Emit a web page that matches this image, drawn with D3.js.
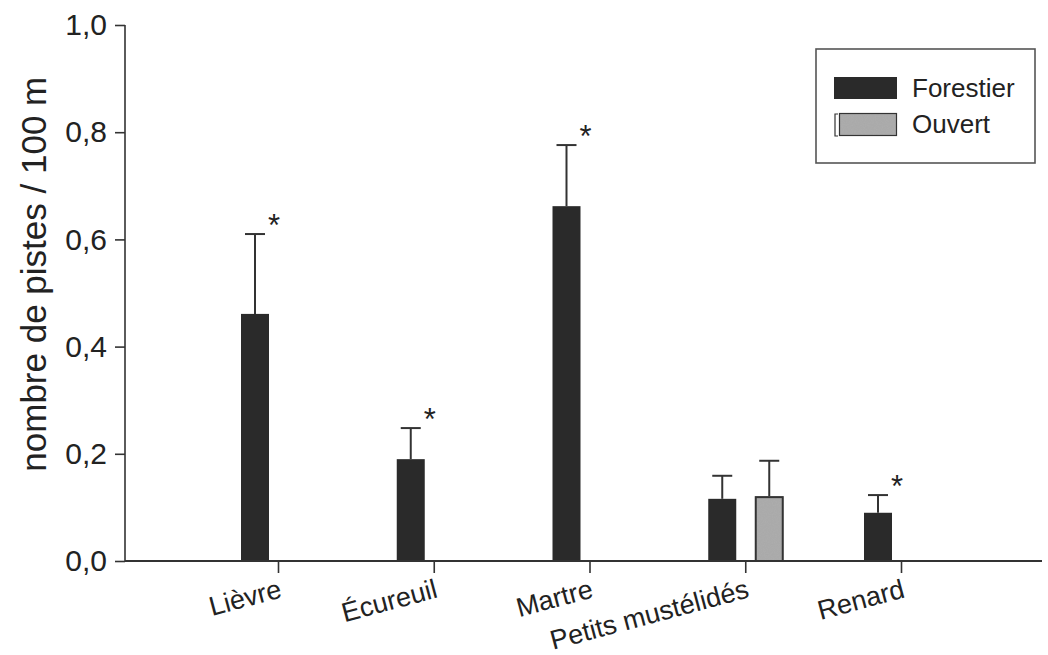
<!DOCTYPE html>
<html>
<head>
<meta charset="utf-8">
<script src="https://cdn.jsdelivr.net/npm/d3@7"></script>
<style>
  html, body { margin: 0; padding: 0; background: #fff; }
  svg { display: block; font-family: "Liberation Sans", Arial, Helvetica, sans-serif; }
</style>
</head>
<body>
<svg id="chart" width="1048" height="655"></svg>
<script>
// Species and mean track counts per 100 m, by habitat type
const species = ["Lièvre", "Écureuil", "Martre", "Petits mustélidés", "Renard"];
const forestier = [0.461, 0.190, 0.662, 0.116, 0.090];
const forestierSE = [0.149, 0.058, 0.114, 0.043, 0.033];
const ouvert = [0, 0, 0, 0.121, 0];
const ouvertSE = [0, 0, 0, 0.066, 0];
const significant = [true, true, true, false, true];
const yTicks = [0, 0.2, 0.4, 0.6, 0.8, 1.0];
const seriesNames = ["Forestier", "Ouvert"];

const svg = d3.select("#chart");
const axisColor = "#333";
const darkFill = "#2a2a2a";
const greyFill = "#a9a9a9";

// grainy texture for the open-habitat bars
const defs = svg.append("defs");
const grain = defs.append("filter").attr("id", "grain")
  .attr("x", 0).attr("y", 0).attr("width", 1).attr("height", 1);
grain.append("feTurbulence").attr("type", "fractalNoise")
  .attr("baseFrequency", 0.9).attr("numOctaves", 2).attr("seed", 3).attr("result", "noise");
grain.append("feColorMatrix").attr("in", "noise").attr("type", "matrix")
  .attr("values", "0 0 0 0 0.45  0 0 0 0 0.45  0 0 0 0 0.45  0 0 0 0.55 -0.1")
  .attr("result", "specks");
grain.append("feComposite").attr("in", "specks").attr("in2", "SourceGraphic").attr("operator", "atop");

const x0 = 125, x1 = 1042;
const y = d3.scaleLinear().domain([0, 1]).range([561, 25]);
const x = d3.scalePoint().domain(species).range([278, 901]);
const barW = 28, offF = -37, offO = 10;

// y axis
const yAxis = svg.append("g").attr("transform", `translate(${x0},0)`)
  .call(d3.axisLeft(y).tickValues(yTicks).tickSize(10).tickPadding(8)
    .tickFormat(d => d3.format(".1f")(d).replace(".", ",")));
yAxis.select(".domain").attr("stroke", axisColor).attr("stroke-width", 1.6)
  .attr("d", `M0,${y(1)}V${y(0)}`);
yAxis.selectAll(".tick line").attr("stroke", axisColor).attr("stroke-width", 1.6);
yAxis.selectAll(".tick text").attr("font-size", 30).attr("fill", "#222")
  .attr("font-family", "Liberation Sans, Arial, sans-serif");

// y axis title
svg.append("text")
  .attr("transform", `translate(46,${y(0.535)}) rotate(-90)`)
  .attr("text-anchor", "middle")
  .attr("font-size", 35).attr("fill", "#222")
  .text("nombre de pistes / 100 m");

// bars
const bars = svg.append("g");
species.forEach((s, i) => {
  const cx = x(s);
  if (ouvert[i] > 0) {
    bars.append("rect")
      .attr("x", cx + offO).attr("y", y(ouvert[i]))
      .attr("width", barW).attr("height", y(0) - y(ouvert[i]))
      .attr("fill", greyFill).attr("filter", "url(#grain)");
    bars.append("rect")
      .attr("x", cx + offO + 0.5).attr("y", y(ouvert[i]) + 1)
      .attr("width", barW - 1).attr("height", y(0) - y(ouvert[i]) - 1)
      .attr("fill", "none").attr("stroke", axisColor).attr("stroke-width", 2);
  }
  bars.append("rect")
    .attr("x", cx + offF).attr("y", y(forestier[i]))
    .attr("width", barW).attr("height", y(0) - y(forestier[i]))
    .attr("fill", darkFill);
});

// one-sided error bars
function errorBar(cx, v, se) {
  const top = y(v + se);
  bars.append("line").attr("x1", cx).attr("x2", cx)
    .attr("y1", y(v)).attr("y2", top)
    .attr("stroke", axisColor).attr("stroke-width", 2);
  bars.append("line").attr("x1", cx - 10).attr("x2", cx + 10)
    .attr("y1", top).attr("y2", top)
    .attr("stroke", axisColor).attr("stroke-width", 2);
}
species.forEach((s, i) => {
  const cx = x(s);
  errorBar(cx + offF + barW / 2, forestier[i], forestierSE[i]);
  if (ouvertSE[i] > 0) errorBar(cx + offO + barW / 2, ouvert[i], ouvertSE[i]);
  if (significant[i]) {
    svg.append("text")
      .attr("x", cx + offF + barW / 2 + 19)
      .attr("y", y(forestier[i] + forestierSE[i]) + 2)
      .attr("text-anchor", "middle")
      .attr("font-size", 31).attr("fill", "#222")
      .text("*");
  }
});

// x axis
const xAxis = svg.append("g").attr("transform", `translate(0,${y(0)})`)
  .call(d3.axisBottom(x).tickSize(12).tickFormat(""));
xAxis.select(".domain").attr("stroke", axisColor).attr("stroke-width", 1.8)
  .attr("d", `M${x0},0H${x1}`);
xAxis.selectAll(".tick line").attr("stroke", axisColor).attr("stroke-width", 1.6);

// slanted category labels
svg.append("g").selectAll("text").data(species).join("text")
  .attr("transform", d => `translate(${x(d) + 5},${y(0) + 36}) rotate(-15)`)
  .attr("text-anchor", "end")
  .attr("font-size", 27).attr("fill", "#222")
  .text(d => d);

// legend
const lg = svg.append("g");
lg.append("rect").attr("x", 816).attr("y", 49).attr("width", 219).attr("height", 114)
  .attr("fill", "#fff").attr("stroke", "#555").attr("stroke-width", 1.6);
lg.append("rect").attr("x", 834).attr("y", 77).attr("width", 63).attr("height", 22)
  .attr("fill", darkFill);
lg.append("rect").attr("x", 839).attr("y", 113).attr("width", 58).attr("height", 23)
  .attr("fill", greyFill).attr("filter", "url(#grain)");
lg.append("rect").attr("x", 839.5).attr("y", 113.5).attr("width", 57).attr("height", 22)
  .attr("fill", "none").attr("stroke", axisColor).attr("stroke-width", 1.2);
lg.append("path").attr("d", "M838,114H835V136H838")
  .attr("fill", "none").attr("stroke", axisColor).attr("stroke-width", 1.2);
lg.selectAll("text.lab").data(seriesNames).join("text")
  .attr("class", "lab")
  .attr("x", 912).attr("y", (d, i) => 97 + i * 36)
  .attr("font-size", 26).attr("fill", "#222")
  .text(d => d);
</script>
</body>
</html>
